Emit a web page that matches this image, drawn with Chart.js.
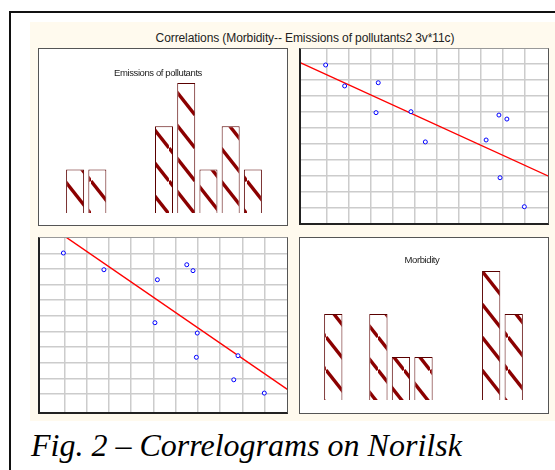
<!DOCTYPE html>
<html lang="en">
<head>
<meta charset="UTF-8">
<title>Correlations (Morbidity-- Emissions of pollutants)</title>
<script src="https://cdn.jsdelivr.net/npm/chart.js@4.4.0/dist/chart.umd.min.js"></script>
<style>
  body { margin: 0; background: #fff; width: 555px; height: 470px; overflow: hidden; position: relative; font-family: "Liberation Sans", Arial, sans-serif; }
  .frame { position: absolute; left: 9px; top: 11px; width: 600px; height: 500px; border-left: 2px solid #111; border-top: 2px solid #111; }
  .cream { position: absolute; left: 30px; top: 22px; width: 530px; height: 399px; background: #fffaee; }
  .title { position: absolute; left: 145px; width: 320px; top: 31px; text-align: center; font-size: 12px; letter-spacing: -0.1px; color: #222; white-space: nowrap; }
  .panel { position: absolute; box-sizing: border-box; background: #fff; }
  .bars { border: 1px solid #555; }
  .scat { border-top: 1px solid #999; border-right: 1px solid #555; border-left: 2px solid #222; border-bottom: 2px solid #222; }
  .ptitle { position: absolute; font-size: 9.5px; letter-spacing: -0.4px; color: #222; text-align: center; }
  .caption { position: absolute; left: 31px; top: 427px; font-family: "Liberation Serif", "Times New Roman", serif; font-style: italic; font-size: 32px; color: #000; white-space: nowrap; }
  canvas { display: block; }
</style>
</head>
<body>
<div class="frame"></div>
<div class="cream"></div>
<div class="title">Correlations (Morbidity-- Emissions of pollutants2 3v*11c)</div>

<div class="panel bars" style="left:38px; top:48px; width:250px; height:178px;"><canvas id="emisBars" width="248" height="176"></canvas></div>
<div class="panel scat" style="left:299px; top:48px; width:250px; height:177px;"><canvas id="scatTR" width="247" height="174"></canvas></div>
<div class="panel scat" style="left:38px; top:237px; width:250px; height:177px;"><canvas id="scatBL" width="247" height="174"></canvas></div>
<div class="panel bars" style="left:299px; top:237px; width:250px; height:177px;"><canvas id="morbBars" width="248" height="175"></canvas></div>

<div class="ptitle" style="left:33px; width:250px; top:67px;">Emissions of pollutants</div>
<div class="ptitle" style="left:297px; width:250px; top:254px;">Morbidity</div>

<div class="caption">Fig. 2 – Correlograms on Norilsk</div>

<script>
// histogram bins (counts)
const binLabels = ['1', '2', '3', '4', '5', '6', '7', '8', '9'];
const emissionCounts = [1, 1, 0, 0, 2, 3, 1, 2, 1];
const morbidityCounts = [2, 0, 2, 1, 1, 0, 0, 3, 2];

// scatter, top right
const trX = [0.97, 1.83, 3.35, 3.25, 4.83, 5.48, 8.23, 8.81, 9.17, 8.86, 9.96];
const trY = [9.94, 8.63, 8.83, 6.96, 7.02, 5.13, 5.25, 6.81, 6.56, 2.89, 1.08];
const trFitX = [-0.19, 11.03];
const trFitY = [10.09, 3.0];

// scatter, bottom left
const blX = [0.96, 2.78, 5.18, 5.07, 6.50, 6.78, 6.97, 6.93, 8.80, 8.61, 9.98];
const blY = [10.02, 8.95, 8.31, 5.56, 9.27, 8.89, 4.90, 3.35, 3.45, 1.91, 1.06];
const blFitX = [1.08, 11.06];
const blFitY = [11.03, 1.26];

const gridTicks = [1, 2, 3, 4, 5, 6, 7, 8, 9, 10];

// diagonal hatch like the old Statistica fill
function hatch() {
  const w = 26, h = 33;
  const c = document.createElement('canvas');
  c.width = w; c.height = h;
  const g = c.getContext('2d');
  g.fillStyle = '#fff';
  g.fillRect(0, 0, w, h);
  g.strokeStyle = '#8b0000';
  g.lineWidth = 3.4;
  for (let k = -1; k <= 1; k++) {
    g.beginPath();
    g.moveTo(0, k * h);
    g.lineTo(w, k * h + h);
    g.stroke();
  }
  return g.createPattern(c, 'repeat');
}

function barChart(id, counts, pad, yMin) {
  new Chart(document.getElementById(id), {
    type: 'bar',
    data: {
      labels: binLabels,
      datasets: [{
        data: counts,
        backgroundColor: hatch(),
        borderColor: '#5a0000',
        borderWidth: 1,
        categoryPercentage: 1,
        barPercentage: 0.81
      }]
    },
    options: {
      responsive: false,
      animation: false,
      layout: { padding: pad, autoPadding: false },
      plugins: { legend: { display: false }, tooltip: { enabled: false } },
      scales: {
        x: { display: false },
        y: { display: false, min: yMin, max: 3 }
      }
    }
  });
}

function scatterChart(id, xs, ys, fx, fy, xr, yr) {
  const gridOpts = { color: '#cccccc', lineWidth: 1.5, drawTicks: false };
  const axis = (r) => ({
    type: 'linear', min: r[0], max: r[1],
    grid: gridOpts,
    border: { display: false },
    ticks: { display: false },
    afterBuildTicks: (s) => { s.ticks = gridTicks.map(v => ({ value: v })); }
  });
  new Chart(document.getElementById(id), {
    type: 'scatter',
    data: {
      datasets: [{
        data: xs.map((x, i) => ({ x: x, y: ys[i] })),
        pointRadius: 2,
        borderColor: '#0000ff',
        backgroundColor: '#ffffff',
        borderWidth: 1
      }, {
        data: fx.map((x, i) => ({ x: x, y: fy[i] })),
        showLine: true,
        borderColor: '#ff0000',
        borderWidth: 1.4,
        pointRadius: 0
      }]
    },
    options: {
      responsive: false,
      animation: false,
      layout: { padding: 0, autoPadding: false },
      plugins: { legend: { display: false }, tooltip: { enabled: false } },
      scales: { x: axis(xr), y: axis(yr) }
    }
  });
}

barChart('emisBars', emissionCounts, { top: 34, left: 25, right: 23, bottom: 0 }, -0.28);
barChart('morbBars', morbidityCounts, { top: 33, left: 22, right: 23, bottom: 0 }, -0.3);
scatterChart('scatTR', trX, trY, trFitX, trFitY, [-0.145, 11.03], [0.06, 10.94]);
scatterChart('scatBL', blX, blY, blFitX, blFitY, [-0.09, 11.0], [-0.15, 10.98]);
</script>
</body>
</html>
